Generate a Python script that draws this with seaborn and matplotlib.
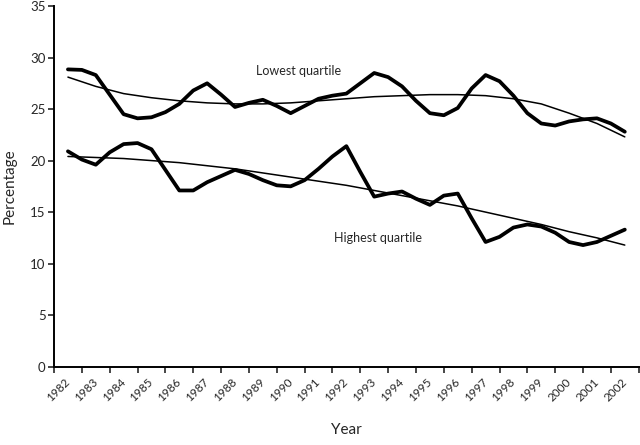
import matplotlib
matplotlib.use("Agg")
import matplotlib.pyplot as plt
import seaborn as sns
from matplotlib.ticker import FixedLocator, NullFormatter

# yearly categories, smoothed series read every half year
years = list(range(1982, 2003))
half_years = [1982 + 0.5 * i for i in range(41)]

lowest_smoothed = [28.85, 28.8, 28.3, 26.4, 24.5, 24.1, 24.2, 24.7, 25.5, 26.8,
                   27.5, 26.4, 25.2, 25.6, 25.9, 25.3, 24.6, 25.3, 26.0, 26.3,
                   26.5, 27.5, 28.5, 28.1, 27.2, 25.8, 24.6, 24.4, 25.1, 27.0,
                   28.3, 27.7, 26.3, 24.6, 23.6, 23.4, 23.8, 24.0, 24.1, 23.6,
                   22.8]
highest_smoothed = [20.9, 20.1, 19.6, 20.8, 21.6, 21.7, 21.1, 19.1, 17.1, 17.1,
                    17.9, 18.5, 19.1, 18.7, 18.1, 17.6, 17.5, 18.1, 19.2, 20.4,
                    21.4, 18.9, 16.5, 16.8, 17.0, 16.3, 15.7, 16.6, 16.8, 14.4,
                    12.1, 12.6, 13.5, 13.8, 13.6, 13.0, 12.1, 11.8, 12.1, 12.7,
                    13.3]
lowest_trend = [28.1, 27.2, 26.5, 26.1, 25.8, 25.6, 25.5, 25.5, 25.6, 25.8,
                26.0, 26.2, 26.3, 26.4, 26.4, 26.3, 26.0, 25.5, 24.6, 23.6, 22.3]
highest_trend = [20.4, 20.3, 20.2, 20.0, 19.8, 19.5, 19.2, 18.8, 18.4, 18.0,
                 17.6, 17.1, 16.6, 16.1, 15.6, 15.0, 14.4, 13.8, 13.1, 12.5, 11.8]

sns.set_style("white")
plt.rcParams["font.family"] = ["Lato", "DejaVu Sans"]

fig = plt.figure(figsize=(6.4, 4.45), dpi=100)
ax = fig.add_axes([0.0844, 0.176, 0.9136, 0.8105])

# thin trend lines
sns.lineplot(x=years, y=lowest_trend, ax=ax, color="black", lw=1.1)
sns.lineplot(x=years, y=highest_trend, ax=ax, color="black", lw=1.1)
# thick smoothed lines
for vals in (lowest_smoothed, highest_smoothed):
    sns.lineplot(x=half_years, y=vals, ax=ax, color="black", lw=2.7,
                 solid_joinstyle="round", solid_capstyle="round")

ax.text(1988.77, 28.7, "Lowest quartile", fontsize=9, va="center", ha="left")
ax.text(1991.57, 12.5, "Highest quartile", fontsize=9, va="center", ha="left")

ax.set_xlim(1981.5, 2002.5)
ax.set_ylim(0, 35)
ax.set_yticks(range(0, 36, 5))

# tick marks between categories, labels at category centres
ax.xaxis.set_major_locator(FixedLocator([y - 0.5 for y in years] + [2002.5]))
ax.xaxis.set_major_formatter(NullFormatter())
ax.xaxis.set_minor_locator(FixedLocator(years))
ax.set_xticklabels([str(y) for y in years], minor=True, rotation=45,
                   ha="right", va="center", rotation_mode="anchor")
ax.tick_params(axis="x", which="minor", length=0, pad=10, labelsize=8.5)
ax.tick_params(axis="x", which="major", length=4, width=1.2, direction="out",
               bottom=True)
ax.tick_params(axis="y", length=4, width=1.2, direction="out", left=True,
               labelsize=9.5, pad=2)

sns.despine(ax=ax)
for s in ["left", "bottom"]:
    ax.spines[s].set_linewidth(1.4)
    ax.spines[s].set_color("black")

ax.set_xlabel("Year", fontsize=11, labelpad=14)
ax.set_ylabel("Percentage", fontsize=11, labelpad=10)

fig.savefig("out.png", dpi=100)
